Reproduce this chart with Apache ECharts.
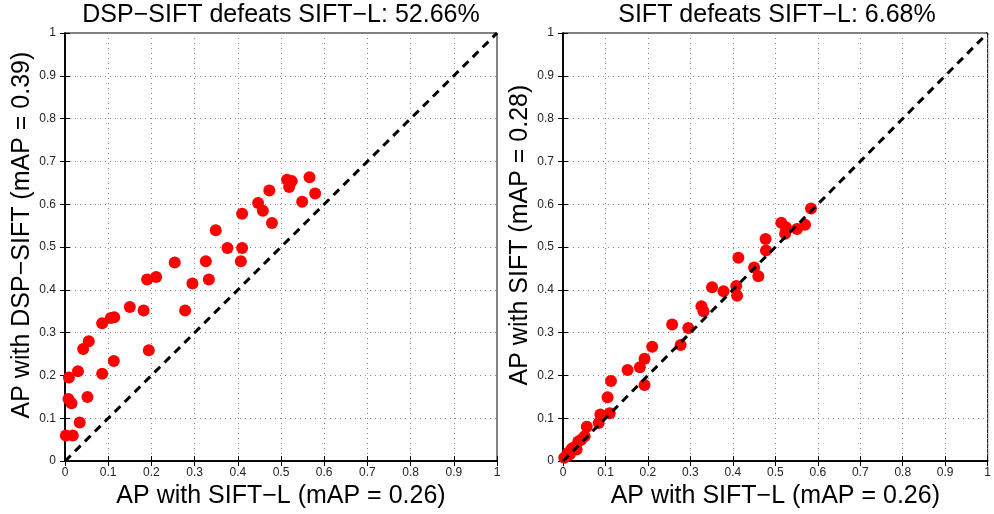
<!DOCTYPE html>
<html>
<head>
<meta charset="utf-8">
<script src="https://cdn.jsdelivr.net/npm/echarts@6/dist/echarts.min.js"></script>
<style>
  html, body { margin: 0; padding: 0; background: #fff; }
  #main { width: 994px; height: 514px; }
</style>
</head>
<body>
<div id="main"></div>
<script>
// 左图: DSP-SIFT vs SIFT-L
const leftTitle = 'DSP\u2212SIFT defeats SIFT\u2212L: 52.66%';
const leftXName = 'AP with SIFT\u2212L (mAP = 0.26)';
const leftYName = 'AP with DSP\u2212SIFT (mAP = 0.39)';
const leftX = [0.002, 0.018, 0.009, 0.008, 0.015, 0.030, 0.034, 0.042, 0.055, 0.052,
  0.086, 0.086, 0.106, 0.114, 0.113, 0.150, 0.182, 0.190, 0.211, 0.194,
  0.254, 0.278, 0.295, 0.326, 0.333, 0.349, 0.376, 0.410, 0.410, 0.407,
  0.447, 0.458, 0.473, 0.479, 0.514, 0.525, 0.519, 0.566, 0.579, 0.549];
const leftY = [0.060, 0.060, 0.195, 0.145, 0.135, 0.210, 0.090, 0.262, 0.280, 0.150,
  0.322, 0.204, 0.334, 0.336, 0.234, 0.360, 0.352, 0.424, 0.430, 0.259,
  0.464, 0.352, 0.415, 0.467, 0.424, 0.539, 0.498, 0.578, 0.498, 0.467,
  0.603, 0.585, 0.632, 0.556, 0.657, 0.654, 0.640, 0.663, 0.625, 0.606];

// 右图: SIFT vs SIFT-L
const rightTitle = 'SIFT defeats SIFT\u2212L: 6.68%';
const rightXName = 'AP with SIFT\u2212L (mAP = 0.26)';
const rightYName = 'AP with SIFT (mAP = 0.28)';
const rightX = [0.003, 0.008, 0.012, 0.016, 0.020, 0.024, 0.032, 0.036, 0.043, 0.051,
  0.056, 0.084, 0.088, 0.110, 0.105, 0.113, 0.152, 0.181, 0.192, 0.192,
  0.210, 0.257, 0.277, 0.295, 0.326, 0.331, 0.351, 0.378, 0.408, 0.410,
  0.413, 0.450, 0.460, 0.477, 0.478, 0.514, 0.525, 0.523, 0.551, 0.570, 0.584];
const rightY = [0.008, 0.012, 0.019, 0.016, 0.028, 0.031, 0.027, 0.046, 0.050, 0.058,
  0.080, 0.089, 0.109, 0.112, 0.149, 0.187, 0.213, 0.219, 0.239, 0.178,
  0.267, 0.319, 0.271, 0.311, 0.362, 0.350, 0.406, 0.397, 0.409, 0.386,
  0.475, 0.452, 0.432, 0.519, 0.492, 0.557, 0.546, 0.531, 0.542, 0.552, 0.590];

// 对角线
const diagonal = [[0, 0], [1, 1]];

const font = 'Liberation Sans, Arial, Helvetica, sans-serif';

function zip(xs, ys) {
  return xs.map((x, i) => [x, ys[i]]);
}

// 主坐标轴 (下/左)
function valueAxis(gridIndex, name, isY) {
  return {
    type: 'value',
    gridIndex: gridIndex,
    min: 0,
    max: 1,
    interval: 0.1,
    name: name,
    nameLocation: 'middle',
    nameGap: isY ? 30 : 15,
    nameTextStyle: {
      fontFamily: font,
      fontSize: 25,
      color: '#000',
      padding: isY ? [0, 0, 0, 24] : 0
    },
    axisLine: { show: true, lineStyle: { color: '#000', width: 1.5 } },
    axisTick: { show: true, inside: true, length: 5, lineStyle: { color: '#000' } },
    axisLabel: {
      fontFamily: font,
      fontSize: 12,
      color: '#222',
      margin: isY ? 9 : 6
    },
    splitLine: {
      show: true,
      lineStyle: { color: '#888', width: 1, type: [1, 4] }
    }
  };
}

// 上/右边框的刻度
function frameAxis(gridIndex, position) {
  return {
    type: 'value',
    gridIndex: gridIndex,
    position: position,
    min: 0,
    max: 1,
    interval: 0.1,
    axisLine: { show: true, lineStyle: { color: '#000', width: 1.5 } },
    axisTick: { show: true, inside: true, length: 5, lineStyle: { color: '#000' } },
    axisLabel: { show: false },
    splitLine: { show: false }
  };
}

function panelSeries(idx, xs, ys) {
  return [{
    type: 'scatter',
    xAxisIndex: idx,
    yAxisIndex: idx,
    data: zip(xs, ys),
    symbolSize: 12,
    itemStyle: { color: '#ff0000', opacity: 1 },
    z: 2
  }, {
    type: 'line',
    xAxisIndex: idx,
    yAxisIndex: idx,
    data: diagonal,
    symbol: 'none',
    lineStyle: { color: '#000', width: 3, type: [8, 6] },
    z: 3
  }];
}

let myChart = echarts.init(document.getElementById('main'), null, { renderer: 'canvas' });

let titleStyle = { fontFamily: font, fontSize: 25, fontWeight: 'normal', color: '#000' };

let option = {
  animation: false,
  backgroundColor: '#fff',
  title: [{
    text: leftTitle,
    left: 281,
    top: 3,
    padding: 0,
    textAlign: 'center',
    textStyle: titleStyle
  }, {
    text: rightTitle,
    left: 777,
    top: 3,
    padding: 0,
    textAlign: 'center',
    textStyle: titleStyle
  }],
  grid: [
    { left: 65, top: 33, width: 432, height: 432, show: true, borderColor: '#000', borderWidth: 1 },
    { left: 563, top: 33, width: 430, height: 432, show: true, borderColor: '#000', borderWidth: 1 }
  ],
  xAxis: [
    valueAxis(0, leftXName, false),
    valueAxis(1, rightXName, false),
    frameAxis(0, 'top'),
    frameAxis(1, 'top')
  ],
  yAxis: [
    valueAxis(0, leftYName, true),
    valueAxis(1, rightYName, true),
    frameAxis(0, 'right'),
    frameAxis(1, 'right')
  ],
  series: panelSeries(0, leftX, leftY).concat(panelSeries(1, rightX, rightY))
};

myChart.setOption(option);

window.addEventListener('resize', function () {
  myChart.resize();
});
</script>
</body>
</html>
